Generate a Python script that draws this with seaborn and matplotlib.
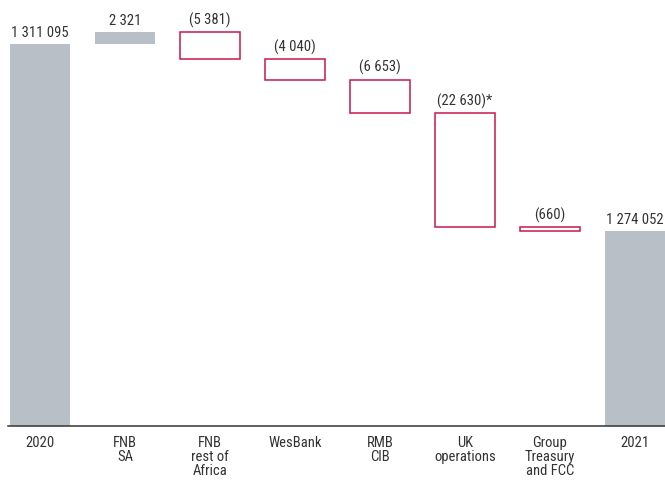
import matplotlib
matplotlib.use("Agg")
import matplotlib.pyplot as plt
import seaborn as sns
import pandas as pd

# waterfall data (R million)
categories = ["2020", "FNB\nSA", "FNB\nrest of\nAfrica", "WesBank", "RMB\nCIB",
              "UK\noperations", "Group\nTreasury\nand FCC", "2021"]
start_total = 1311095
changes = [2321, -5381, -4040, -6653, -22630, -660]
end_total = 1274052
value_labels = ["1 311 095", "2 321", "(5 381)", "(4 040)", "(6 653)",
                "(22 630)*", "(660)", "1 274 052"]

GREY = "#b8bfc6"
RED = "#c8174b"
TEXT = "#333333"

sns.set_theme(style="white")
plt.rcParams["font.family"] = ["Roboto Condensed", "DejaVu Sans"]

# build bottoms / heights for the floating bars
bottoms, heights, kinds = [0], [start_total], ["total"]
level = start_total
for c in changes:
    if c >= 0:
        bottoms.append(level)
        heights.append(c)
        kinds.append("up")
    else:
        bottoms.append(level + c)
        heights.append(-c)
        kinds.append("down")
    level += c
bottoms.append(0)
heights.append(end_total)
kinds.append("total")

df = pd.DataFrame({"category": categories, "height": heights,
                   "bottom": bottoms, "kind": kinds})

fig = plt.figure(figsize=(6.65, 4.83), dpi=100)
ax = fig.add_axes([8 / 665, 57 / 483, 657 / 665, 426 / 483])

sns.barplot(data=df, x="category", y="height", bottom=df["bottom"].values,
            color=GREY, width=0.706, saturation=1, ax=ax)

for patch, kind in zip(ax.patches, df["kind"]):
    if kind == "down":
        patch.set_facecolor("white")
        patch.set_edgecolor(RED)
        patch.set_linewidth(1.1)
    else:
        patch.set_facecolor(GREY)
        patch.set_edgecolor("none")

for i, (b, h, lab) in enumerate(zip(df["bottom"], df["height"], value_labels)):
    ax.annotate(lab, (i, b + h), xytext=(0, 3), textcoords="offset points",
                ha="center", va="bottom", fontsize=10.5, color=TEXT)

ax.set_ylim(1235400, 1319750)
ax.set_xlim(-0.376, 7.353)

for side in ["top", "right", "left"]:
    ax.spines[side].set_visible(False)
ax.spines["bottom"].set_color(TEXT)
ax.spines["bottom"].set_linewidth(1.1)

ax.set_yticks([])
ax.set_xlabel("")
ax.set_ylabel("")
ax.tick_params(axis="x", length=0, pad=7, labelsize=10.5, labelcolor=TEXT)
for t in ax.get_xticklabels():
    t.set_linespacing(1.0)

fig.savefig("out.png", dpi=100)
plt.close(fig)
